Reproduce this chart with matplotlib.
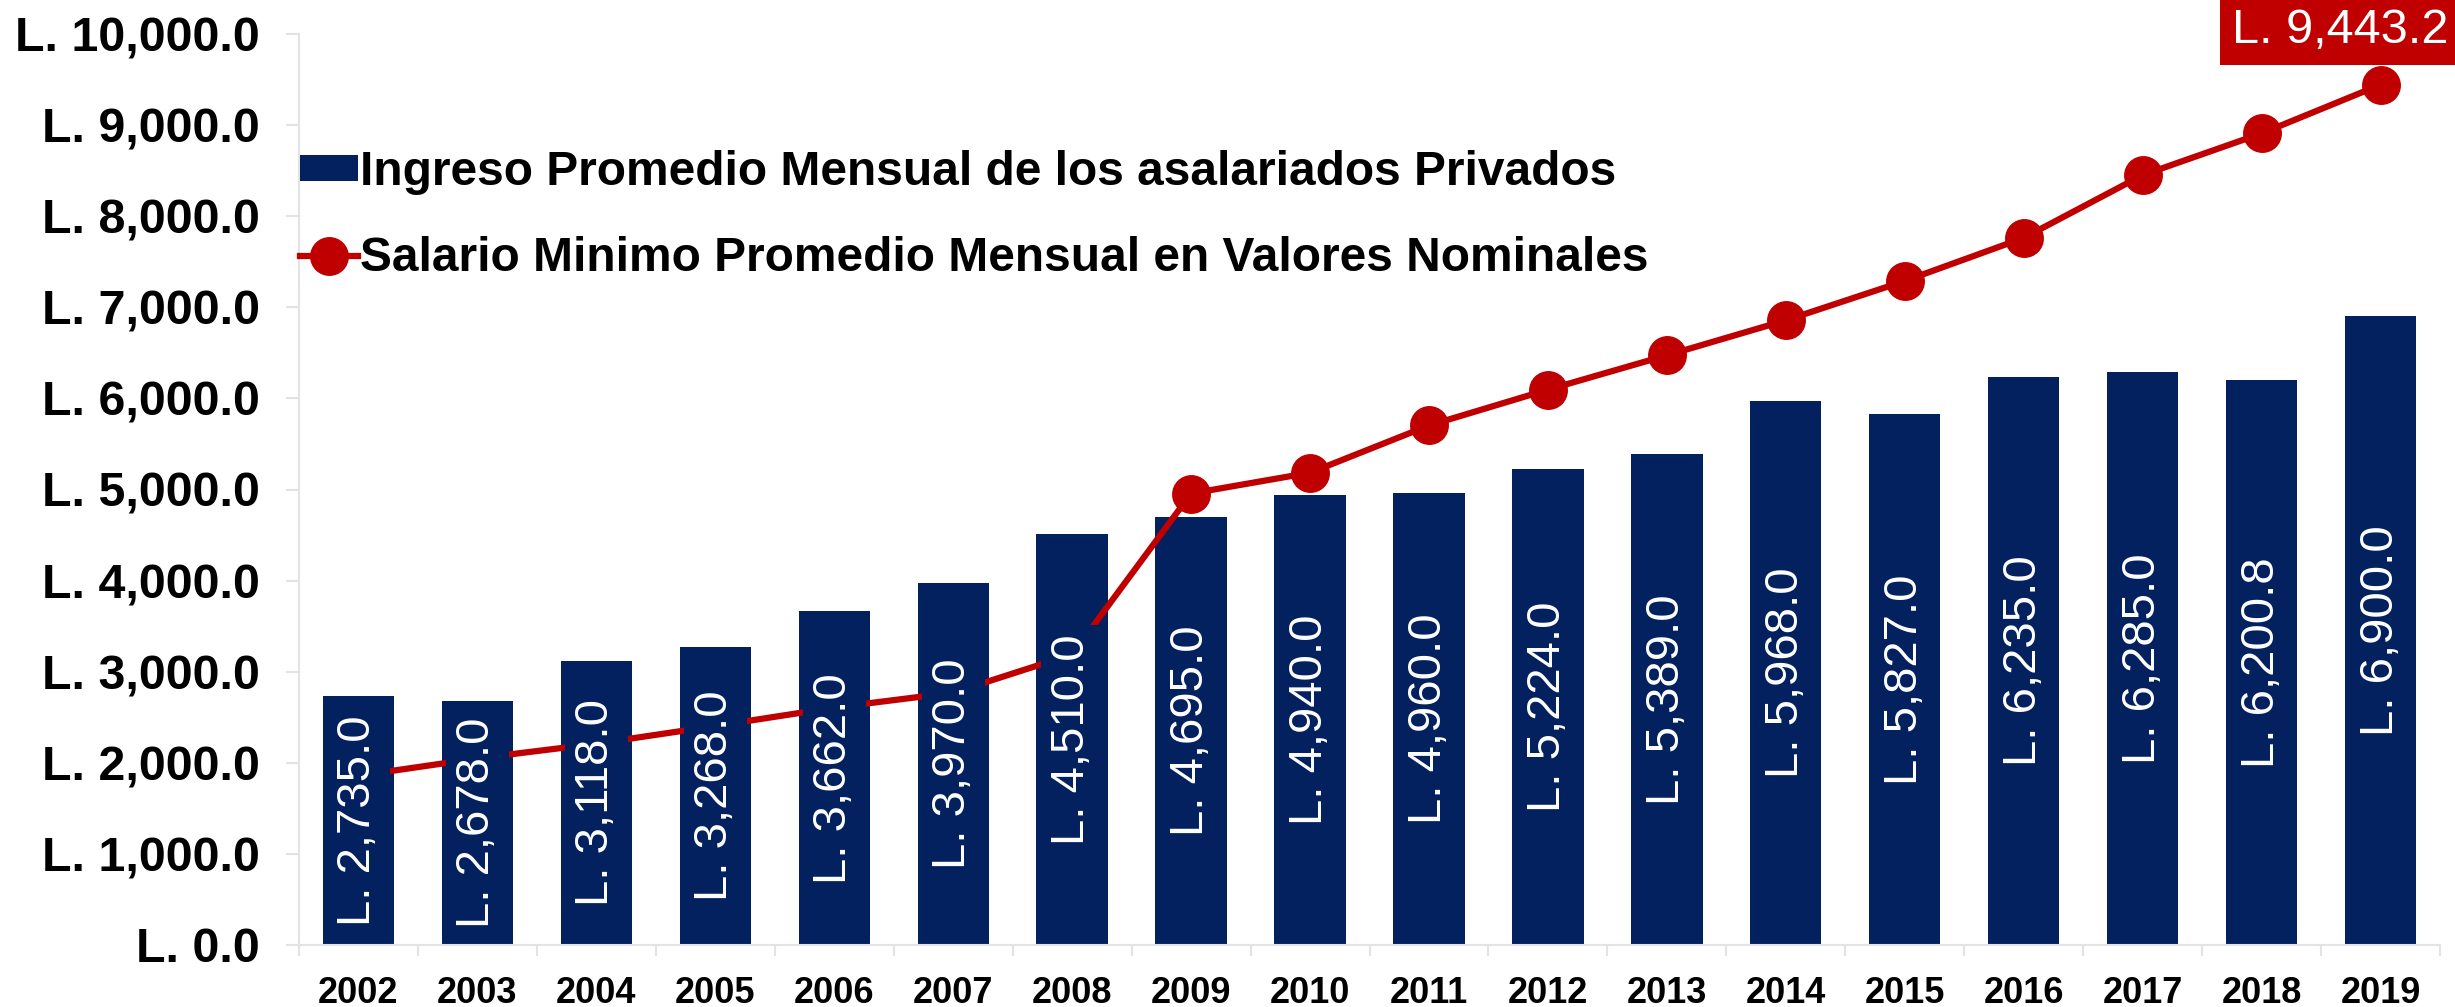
import matplotlib
matplotlib.use("Agg")
import matplotlib.pyplot as plt
from matplotlib.ticker import FuncFormatter, FixedLocator
import numpy as np

years = ["2002", "2003", "2004", "2005", "2006", "2007", "2008", "2009", "2010",
         "2011", "2012", "2013", "2014", "2015", "2016", "2017", "2018", "2019"]
ingreso = [2735.0, 2678.0, 3118.0, 3268.0, 3662.0, 3970.0, 4510.0, 4695.0, 4940.0,
           4960.0, 5224.0, 5389.0, 5968.0, 5827.0, 6235.0, 6285.0, 6200.8, 6900.0]
salario_minimo = [1858, 2048, 2210, 2404, 2606, 2770, 3190, 4956, 5184,
                  5703, 6096, 6473, 6857, 7289, 7762, 8451, 8909, 9443.2]
bar_label = "Ingreso Promedio Mensual de los asalariados Privados"
line_label = "Salario Minimo Promedio Mensual en Valores Nominales"

NAVY = "#03215F"
RED = "#C00000"
GRAY = "#E3E3E3"
plt.rcParams['font.family'] = ['Liberation Sans', 'DejaVu Sans']

W, H = 2455, 1007
fig = plt.figure(figsize=(W / 100, H / 100), dpi=100)
ax = fig.add_axes([299 / W, 1 - 945 / H, (2440 - 299) / W, (945 - 34) / H])

x = np.arange(len(years))
bars = ax.bar(x, ingreso, width=0.6, color=NAVY, zorder=1, label=bar_label)
line, = ax.plot(x, salario_minimo, color=RED, lw=4.5, marker='o', markersize=27,
                zorder=2, label=line_label)

for xi, v in zip(x, ingreso):
    ax.text(xi, v / 2, "L. {:,.1f}".format(v), rotation=90, ha='center', va='center',
            color='white', fontsize=34, zorder=3,
            bbox=dict(boxstyle='square,pad=0.2', facecolor=NAVY, edgecolor='none'))

ax.annotate("L. {:,.1f}".format(salario_minimo[-1]), xy=(x[-1], salario_minimo[-1]),
            xytext=(-40, 54), textcoords='offset pixels', ha='center', va='center',
            color='white', fontsize=35, zorder=5, annotation_clip=False,
            bbox=dict(boxstyle='square,pad=0.25', facecolor=RED, edgecolor='none'))

ax.set_xlim(-0.5, len(years) - 0.5)
ax.set_ylim(0, 10000)
ax.set_yticks(np.arange(0, 10001, 1000))
ax.yaxis.set_major_formatter(FuncFormatter(lambda v, p: "L. {:,.1f}".format(v)))
ax.set_xticks(x)
ax.set_xticklabels(years)
ax.xaxis.set_minor_locator(FixedLocator(np.arange(-0.5, len(years), 1.0)))

for s in ['top', 'right']:
    ax.spines[s].set_visible(False)
for s in ['left', 'bottom']:
    ax.spines[s].set_color(GRAY)
    ax.spines[s].set_linewidth(1.5)

ax.tick_params(axis='y', length=9.4, width=1.5, color=GRAY, pad=19,
               labelsize=34.8, labelcolor='black')
ax.tick_params(axis='x', which='major', length=0, pad=22, labelsize=26)
ax.tick_params(axis='x', which='minor', length=8, width=1.5, color=GRAY)
for lbl in ax.get_yticklabels() + ax.get_xticklabels():
    lbl.set_fontweight('bold')

leg = ax.legend([bars, line], [bar_label, line_label],
                loc='upper left', bbox_to_anchor=(300 / W, 1 - 150 / H),
                bbox_transform=fig.transFigure, frameon=False,
                prop={'weight': 'bold', 'size': 34.5}, handlelength=1.2,
                handleheight=0.48, handletextpad=0.05, borderpad=0, borderaxespad=0,
                labelspacing=0.85, markerscale=1.0)
leg.set_zorder(6)

fig.savefig("out.png", dpi=100)
